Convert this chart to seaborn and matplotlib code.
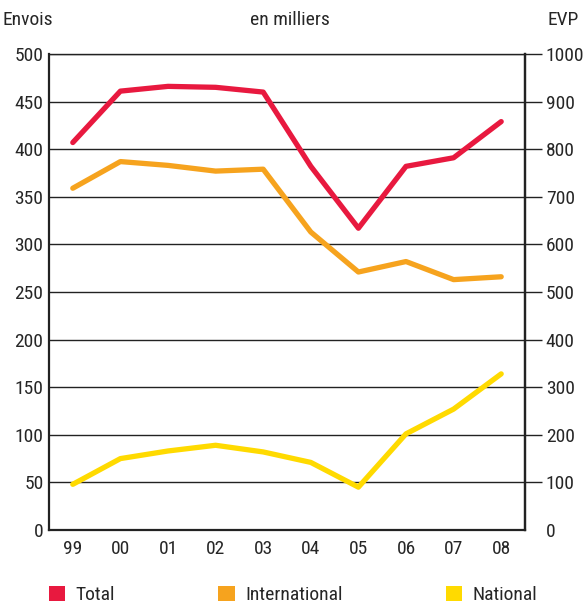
import pandas as pd
import matplotlib
matplotlib.use("Agg")
import matplotlib.pyplot as plt
from matplotlib.patches import Patch
import seaborn as sns

sns.set_style("white")
plt.rcParams['font.family'] = ['Liberation Sans Narrow', 'Roboto Condensed', 'Roboto', 'DejaVu Sans']

# data (thousands)
years = ["99", "00", "01", "02", "03", "04", "05", "06", "07", "08"]
total = [407, 461, 466, 465, 460, 382, 317, 382, 391, 429]
international = [359, 387, 383, 377, 379, 313, 271, 282, 263, 266]
national = [48, 75, 83, 89, 82, 71, 45, 101, 127, 164]

series_names = ["Total", "International", "National"]
colors = {"Total": "#E8193F", "International": "#F6A31E", "National": "#FFDA00"}

df = pd.DataFrame({"pos": range(len(years)), "year": years,
                   "Total": total, "International": international, "National": national})
long_df = df.melt(id_vars=["pos", "year"], value_vars=series_names,
                  var_name="serie", value_name="envois")

fs = 14
fig = plt.figure(figsize=(5.84, 6.05), dpi=100)
ax = fig.add_axes([49/584, 75/605, 476/584, 476/605])

sns.lineplot(data=long_df, x="pos", y="envois", hue="serie", palette=colors,
             hue_order=series_names, linewidth=3.8, legend=False, ax=ax,
             solid_capstyle="round")

ax.set_xlim(-0.5, len(years) - 0.5)
ax.set_ylim(0, 500)
ax.set_yticks(range(0, 501, 50))
ax.set_xticks(range(len(years)))
ax.set_xticklabels(years)
ax.set_xticks([i + 0.5 for i in range(len(years) - 1)], minor=True)
ax.tick_params(axis="x", which="major", length=0, pad=7, labelsize=fs)
ax.tick_params(axis="x", which="minor", direction="in", length=8.6, width=1.5, color="#222222")
ax.tick_params(axis="y", length=0, pad=4, labelsize=fs)
ax.set_xlabel("")
ax.set_ylabel("")
ax.yaxis.grid(True, color="#222222", linewidth=1)
ax.set_axisbelow(True)

for side in ["left", "bottom", "right"]:
    ax.spines[side].set_linewidth(1.6)
    ax.spines[side].set_color("#222222")
ax.spines["top"].set_linewidth(1)
ax.spines["top"].set_color("#222222")

# right axis (EVP)
ax2 = ax.twinx()
ax2.set_ylim(0, 1000)
ax2.set_yticks(range(0, 1001, 100))
ax2.tick_params(axis="y", direction="out", length=12, width=1, color="#222222",
                pad=3, labelsize=fs)
ax2.yaxis.get_major_ticks()[0].tick2line.set_visible(False)
for side in ["left", "bottom", "top"]:
    ax2.spines[side].set_visible(False)
ax2.spines["right"].set_linewidth(1.6)
ax2.spines["right"].set_color("#222222")

fig.text(3/584, 1 - 20/605, "Envois", fontsize=fs, ha="left", va="center")
fig.text(290/584, 1 - 20/605, "en milliers", fontsize=fs, ha="center", va="center")
fig.text(579/584, 1 - 20/605, "EVP", fontsize=fs, ha="right", va="center")

handles = [Patch(facecolor=colors[s], edgecolor="none", label=s) for s in series_names]
fig.legend(handles=handles, loc="lower left", bbox_to_anchor=(49/584, 1/605), ncol=3,
           frameon=False, fontsize=fs, handlelength=0.83, handleheight=0.83,
           handletextpad=0.55, columnspacing=5.3, borderpad=0.0, borderaxespad=0)

fig.savefig("out.png", dpi=100)
